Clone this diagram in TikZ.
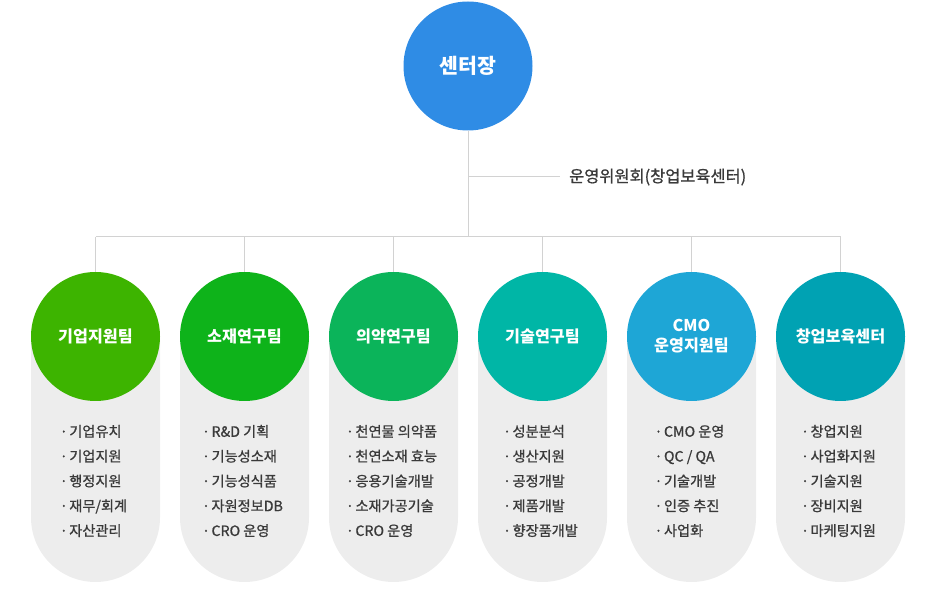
\documentclass[tikz,border=0pt]{standalone}
\usepackage{fontspec}
\setmainfont{Noto Sans CJK KR}
\newfontfamily\medfont{Noto Sans CJK KR}[FakeBold=0.9]
\definecolor{linec}{HTML}{D2D2D2}
\definecolor{pillc}{HTML}{EDEDED}
\definecolor{txtc}{HTML}{3A3A3A}
\definecolor{topc}{HTML}{2F8CE5}
\definecolor{ca}{HTML}{3DB400}
\definecolor{cb}{HTML}{0EB31A}
\definecolor{cc}{HTML}{0BB45A}
\definecolor{cd}{HTML}{00B6A6}
\definecolor{ce}{HTML}{1EA6D6}
\definecolor{cf}{HTML}{00A2B3}
\tikzset{
  conn/.style={draw=linec, line width=1pt},
  teamcircle/.style={circle, minimum size=129pt, inner sep=0pt, text=white, align=center,
     font=\fontsize{16.2}{20}\selectfont\bfseries},
  topcircle/.style={circle, minimum size=129pt, inner sep=0pt, fill=topc, text=white,
     font=\fontsize{20.5}{22}\selectfont\bfseries},
  listbox/.style={align=left, text=txtc, inner sep=0pt, font=\fontsize{14.2}{24.8}\selectfont\medfont},
  pill/.style={fill=pillc, draw=none}
}
\newcommand{\bul}{·\hspace{1.5pt}}
\begin{document}
\begin{tikzpicture}[x=1pt,y=1pt]
\useasboundingbox (0,0) rectangle (935,600);
% top
\node[topcircle] (top) at (468,534) {센터장};
\coordinate (bus) at (468,363);
\coordinate (br) at (468,423);
\node[anchor=west, inner sep=0pt, text=txtc, font=\fontsize{16.4}{18}\selectfont\medfont] (lab) at (569,423) {운영위원회(창업보육센터)};
\coordinate (labend) at (560,423);
\coordinate (busl) at (95.5,363);
\coordinate (busr) at (840.5,363);
\draw[conn] (top.south) -- (bus);
\draw[conn] (br) -- (labend);
\draw[conn] (busl) -- (busr);
% columns
\foreach \i/\col/\name/\items in {
  0/ca/{기업지원팀}/{\bul 기업유치\\\bul 기업지원\\\bul 행정지원\\\bul 재무/회계\\\bul 자산관리},
  1/cb/{소재연구팀}/{\bul R\&D 기획\\\bul 기능성소재\\\bul 기능성식품\\\bul 자원정보DB\\\bul CRO 운영},
  2/cc/{의약연구팀}/{\bul 천연물 의약품\\\bul 천연소재 효능\\\bul 응용기술개발\\\bul 소재가공기술\\\bul CRO 운영},
  3/cd/{기술연구팀}/{\bul 성분분석\\\bul 생산지원\\\bul 공정개발\\\bul 제품개발\\\bul 향장품개발},
  4/ce/{CMO\\운영지원팀}/{\bul CMO 운영\\\bul QC / QA\\\bul 기술개발\\\bul 인증 추진\\\bul 사업화},
  5/cf/{창업보육센터}/{\bul 창업지원\\\bul 사업화지원\\\bul 기술지원\\\bul 장비지원\\\bul 마케팅지원}}{
  \pgfmathsetmacro{\cx}{95.5+149*\i}
  \fill[pillc] (\cx-64.5,263.5) -- (\cx-64.5,82.5) arc[start angle=180, end angle=360, radius=64.5] -- (\cx+64.5,263.5) -- cycle;
  \node[teamcircle, fill=\col] (t\i) at (\cx,263.5) {\name};
  \node[listbox] (l\i) at (\cx-2,119) {\items};
  \draw[conn] (t\i.north) -- (t\i.north |- bus);
}
\end{tikzpicture}
\end{document}
